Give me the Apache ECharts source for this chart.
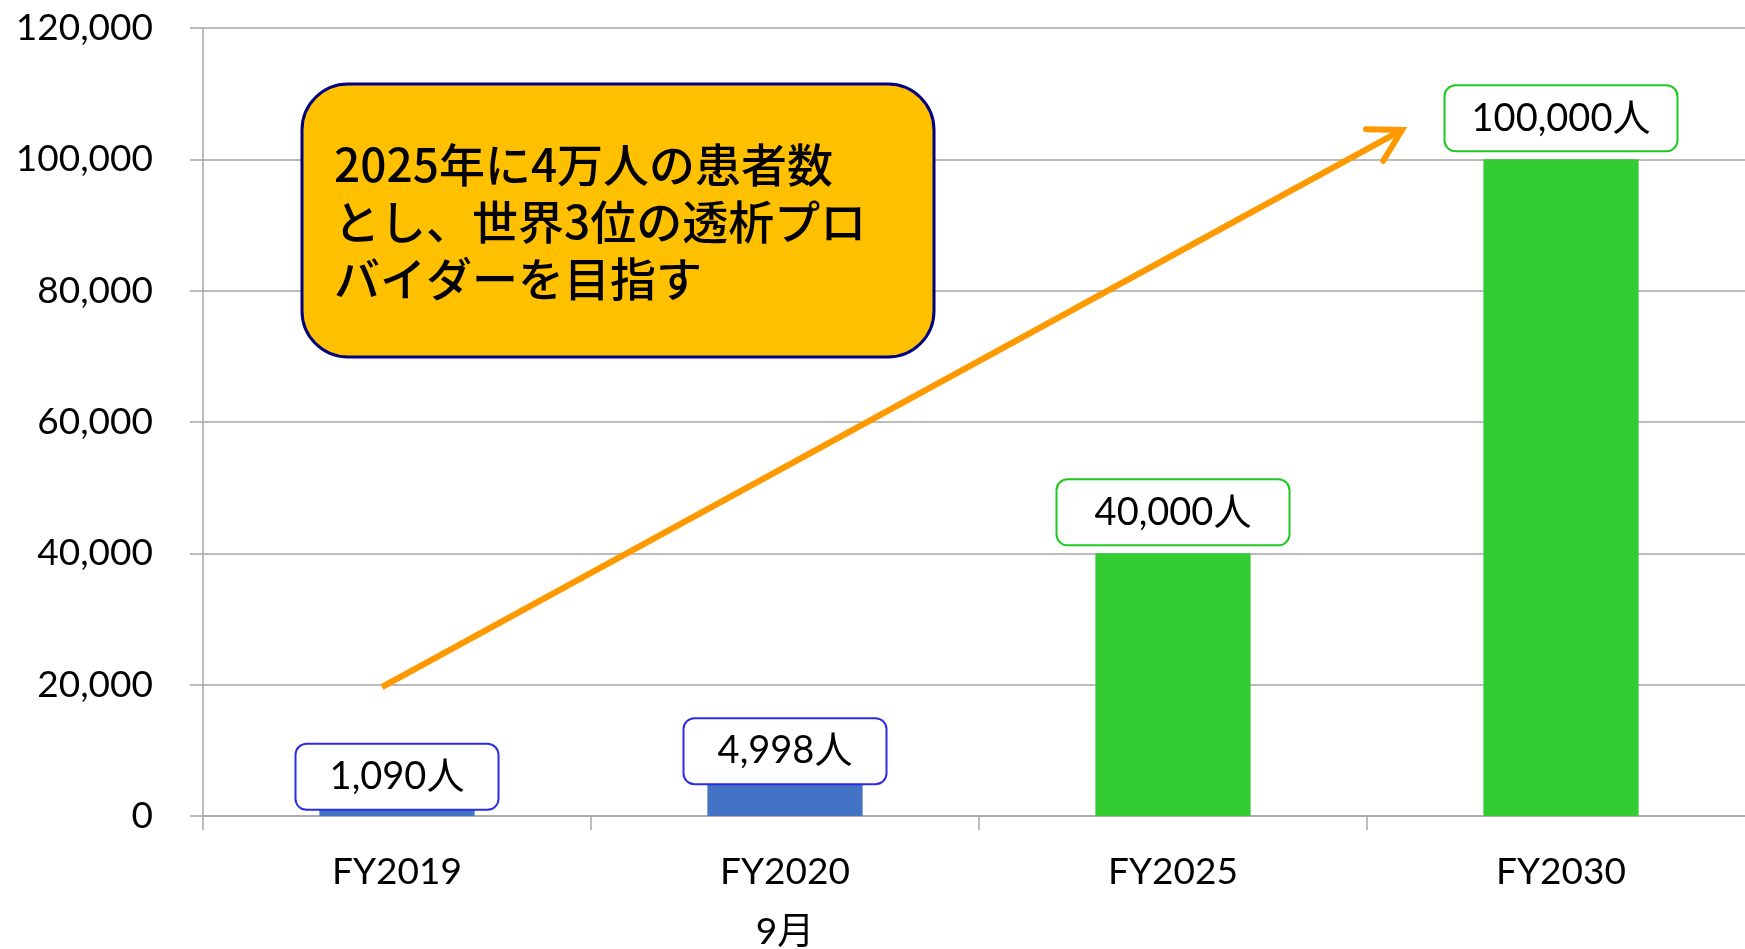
<!DOCTYPE html>
<html>
<head>
<meta charset="utf-8">
<script src="https://cdn.jsdelivr.net/npm/echarts@6/dist/echarts.min.js"></script>
<style>
  html, body { margin: 0; padding: 0; background: #fff; }
  #chart { width: 1745px; height: 949px; }
</style>
</head>
<body>
<div id="chart"></div>
<script>
// data
const categories = ['FY2019', 'FY2020\n9月', 'FY2025', 'FY2030'];
const actualValues = [1090, 4998, null, null];      // 実績 (blue)
const targetValues = [null, null, 40000, 100000];   // 目標 (green)
const yMin = 0;
const yMax = 120000;
const yInterval = 20000;
const calloutText = ['2025年に4万人の患者数', 'とし、世界3位の透析プロ', 'バイダーを目指す'];

const axisFont = 'Lato, "Noto Sans CJK JP", sans-serif';
const gridColor = '#A6A6A6';

const chart = echarts.init(document.getElementById('chart'));

const fmt = v => Number(v).toLocaleString('en-US');

function barLabel(borderColor, boxWidth, dist) {
  return {
    show: true,
    position: 'top',
    distance: dist,
    formatter: p => fmt(p.value) + '人',
    color: '#000',
    fontFamily: axisFont,
    fontSize: 38,
    lineHeight: 40,
    backgroundColor: '#fff',
    borderColor: borderColor,
    borderWidth: 2,
    borderRadius: 10,
    padding: [12, 0],
    width: boxWidth,
    align: 'center'
  };
}

// arrow: start and end in pixels, head drawn as an open chevron
const arrowStart = [382, 687];
const arrowEnd = [1402, 130];
const dx = arrowEnd[0] - arrowStart[0];
const dy = arrowEnd[1] - arrowStart[1];
const ang = Math.atan2(-dy, -dx);
const headLen = 36;
const headSpread = Math.PI / 6;
const headA = [arrowEnd[0] + headLen * Math.cos(ang + headSpread), arrowEnd[1] + headLen * Math.sin(ang + headSpread)];
const headB = [arrowEnd[0] + headLen * Math.cos(ang - headSpread), arrowEnd[1] + headLen * Math.sin(ang - headSpread)];

const option = {
  backgroundColor: '#fff',
  animation: false,
  grid: {
    left: 203,
    top: 28,
    width: 1552,
    bottom: 133,
    containLabel: false,
    outerBoundsMode: 'none'
  },
  xAxis: {
    type: 'category',
    data: categories,
    boundaryGap: true,
    axisLine: { show: true, lineStyle: { color: gridColor, width: 1.5 } },
    axisTick: { show: true, alignWithLabel: false, length: 14, lineStyle: { color: gridColor, width: 1.5 } },
    axisLabel: {
      color: '#000',
      fontFamily: axisFont,
      fontSize: 37,
      lineHeight: 60,
      margin: 26
    },
    splitLine: { show: false }
  },
  yAxis: {
    type: 'value',
    min: yMin,
    max: yMax,
    interval: yInterval,
    axisLine: { show: true, lineStyle: { color: gridColor, width: 1.5 } },
    axisTick: { show: true, length: 13, lineStyle: { color: gridColor, width: 1.5 } },
    axisLabel: {
      color: '#000',
      fontFamily: axisFont,
      fontSize: 37,
      margin: 50,
      formatter: fmt
    },
    splitLine: { show: true, lineStyle: { color: gridColor, width: 1.5 } }
  },
  series: [
    {
      name: '実績',
      type: 'bar',
      data: actualValues,
      barWidth: '40%',
      barGap: '-100%',
      itemStyle: { color: '#4472C4' },
      label: barLabel('#2B2BE8', 201, 0),
      z: 3
    },
    {
      name: '目標',
      type: 'bar',
      data: targetValues,
      barWidth: '40%',
      itemStyle: { color: '#33CC33' },
      label: barLabel('#1FC81F', 231, 9),
      z: 3
    }
  ],
  graphic: [
    {
      type: 'rect',
      z: 10,
      shape: { x: 302, y: 84, width: 632, height: 273, r: 46 },
      style: { fill: '#FFC000', stroke: '#000080', lineWidth: 3 }
    },
    {
      type: 'text',
      z: 11,
      style: {
        x: 334,
        y: 222,
        text: calloutText.join('\n'),
        fill: '#000',
        font: '500 46px "Noto Sans CJK JP", sans-serif',
        lineHeight: 57,
        verticalAlign: 'middle',
        align: 'left'
      }
    },
    {
      type: 'line',
      z: 12,
      shape: { x1: arrowStart[0], y1: arrowStart[1], x2: arrowEnd[0], y2: arrowEnd[1] },
      style: { stroke: '#FF9900', lineWidth: 6, lineCap: 'butt' }
    },
    {
      type: 'polyline',
      z: 12,
      shape: { points: [headA, arrowEnd, headB] },
      style: { stroke: '#FF9900', lineWidth: 6, fill: null, lineJoin: 'miter', lineCap: 'round' }
    }
  ]
};

chart.setOption(option);
</script>
</body>
</html>
